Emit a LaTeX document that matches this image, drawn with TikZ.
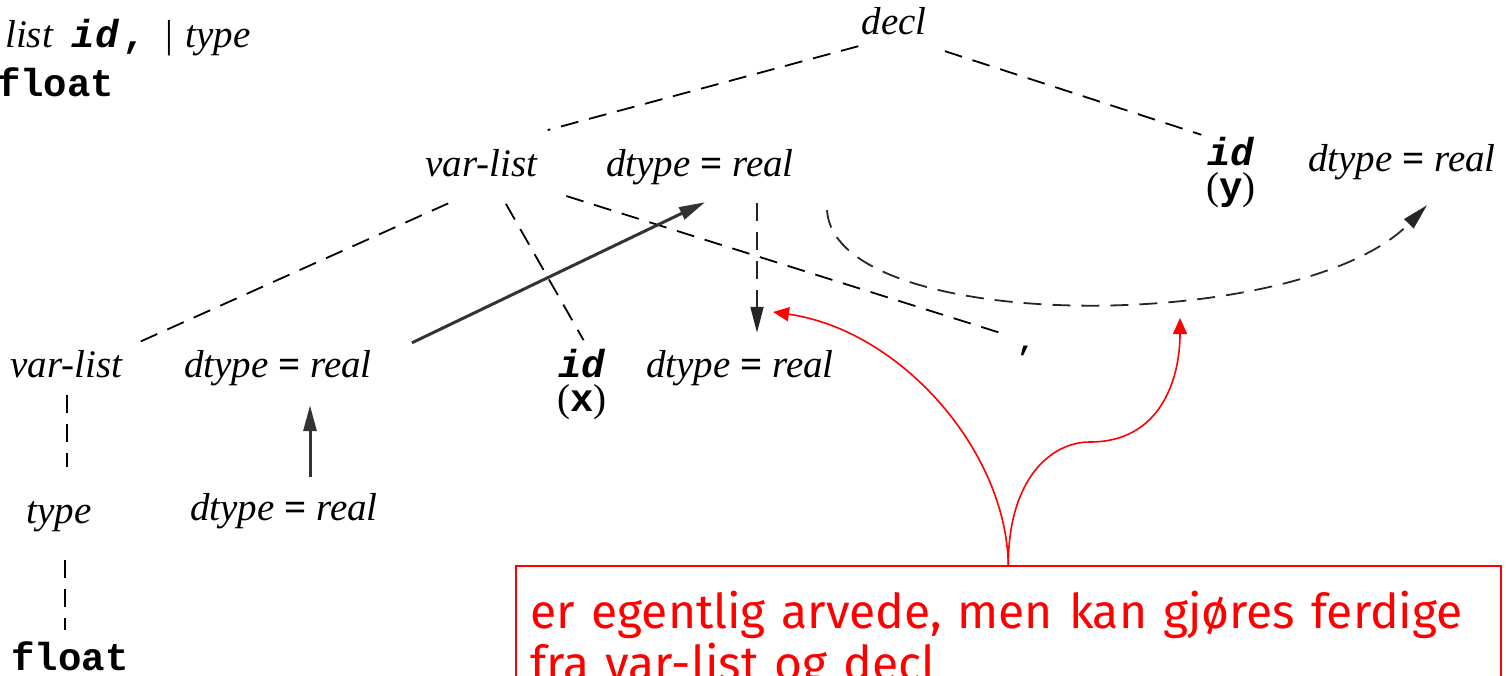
\documentclass[tikz,border=0pt]{standalone}
\usepackage{fontspec}
\setmainfont{Liberation Serif}
\setmonofont{Liberation Mono}
\newfontfamily\remfont{Fira Sans}
\usetikzlibrary{arrows.meta}

\newcommand{\dtreal}{\textit{dtype} \textbf{=} \textit{real}}
\newcommand{\tok}[1]{\texttt{\textbf{#1}}}

\begin{document}
\begin{tikzpicture}[x=1pt, y=-1pt,
    lbl/.style={font=\fontsize{39}{44}\selectfont, inner sep=3pt, text height=26pt, text depth=8pt, anchor=base},
    idlbl/.style={font=\fontsize{39}{34}\selectfont, inner sep=1pt, align=center, anchor=north},
    tree/.style={line width=1.8pt, dash pattern=on 18pt off 11pt},
    arr/.style={line width=3pt, black!80, -{Triangle[length=26pt,width=13pt]}},
    arrd/.style={tree, black!85, -{Triangle[length=26pt,width=13pt]}},
    rem/.style={red, line width=1.6pt, -{Triangle[length=16pt,width=14pt]}}]
    \useasboundingbox (0,0) rectangle (1506,676);

    % Grammar lines, cut off at the left
    \node[lbl, anchor=base west, inner sep=0] (rule) at (5,48) {\textit{list}\hspace{18pt}\tok{\textit{id}}\hspace{3pt}\tok{,}\hspace{20pt}|\hspace{12pt}\textit{type}};
    \node[lbl, anchor=base west, inner sep=0] (flt0) at (-3,97) {\tok{float}};

    % Draw nodes
    \node[lbl] (decl) at (894,35) {\textit{decl}};
    \node[lbl] (vl1) at (482,177) {\textit{var-list}};
    \node[lbl] (dt1) at (700,177) {\dtreal};
    \node[idlbl] (idy) at (1231,136) {\tok{\textit{id}}\\(\tok{y})};
    \node[lbl] (dtY) at (1402,172) {\dtreal};
    \node[lbl] (vl2) at (67,377) {\textit{var-list}};
    \node[lbl] (dt2) at (278,377) {\dtreal};
    \node[idlbl] (idx) at (582,348) {\tok{\textit{id}}\\(\tok{x})};
    \node[lbl] (dtX) at (740,377) {\dtreal};
    \node[lbl, font=\fontsize{30}{30}\selectfont] (comma) at (1026,350) {\tok{,}};
    \node[lbl] (type) at (59,523) {\textit{type}};
    \node[lbl] (dt3) at (284,520) {\dtreal};
    \node[lbl, text depth=0pt] (flt) at (70,670) {\tok{float}};

    % Draw tree
    \draw[tree, shorten >=68pt] (decl.south west) -- (vl1.north);
    \draw[tree, shorten <=16pt, shorten >=4pt] (decl.south east) -- (idy.north west);
    \draw[tree, shorten <=37pt, shorten >=14pt] (vl1.south) -- (vl2.north east);
    \draw[tree, shorten <=18pt, shorten >=9pt] ([xshift=15]vl1.south) -- ([xshift=6]idx.north);
    \draw[tree, shorten <=26pt, shorten >=9pt] (vl1.south east) -- (comma);
    \draw[tree, shorten <=7pt, shorten >=27pt] (vl2.south) -- (vl2.south |- type.north);
    \draw[tree, shorten <=26pt, shorten >=11pt] ([xshift=-5]flt.north |- type.south) -- ([xshift=-5]flt.north);

    % Draw dtype arrows
    \draw[arr, shorten <=14pt, shorten >=17pt] ([xshift=26]dt3.north) -- ([xshift=26]dt3.north |- dt2.south);
    \draw[arr] ([shift={(37,-5)}]dt2.north east) -- ([shift={(5,14)}]dt1.south);
    \draw[arrd, shorten <=15pt, shorten >=15pt] ([xshift=57]dt1.south) -- ([xshift=17]dtX.north);
    \draw[arrd] ([shift={(30,22)}]dt1.south east) .. controls +(8,125) and +(-127,130) .. ([shift={(25,22)}]dtY.south);

    % Remark
    \node[draw=red, line width=1.6pt, anchor=north west, minimum width=985pt, minimum height=150pt,
          inner xsep=14pt, inner ysep=17pt, text width=955pt, align=left, text=red,
          font=\remfont\fontsize{48}{52}\selectfont] (remark) at (515,565)
          {er egentlig arvede, men kan gjøres ferdige\\fra var-list og decl};
    \coordinate (xinh) at (773,312);
    \coordinate (yinh) at (1180,318);
    \draw[rem] (remark.north) .. controls +(-2,-115) and +(127,18) .. (xinh);
    \draw[rem] (remark.north) .. controls +(0,-85) and +(-40,0) .. (1090,442) .. controls +(70,0) and +(0,62) .. (yinh);
\end{tikzpicture}
\end{document}
